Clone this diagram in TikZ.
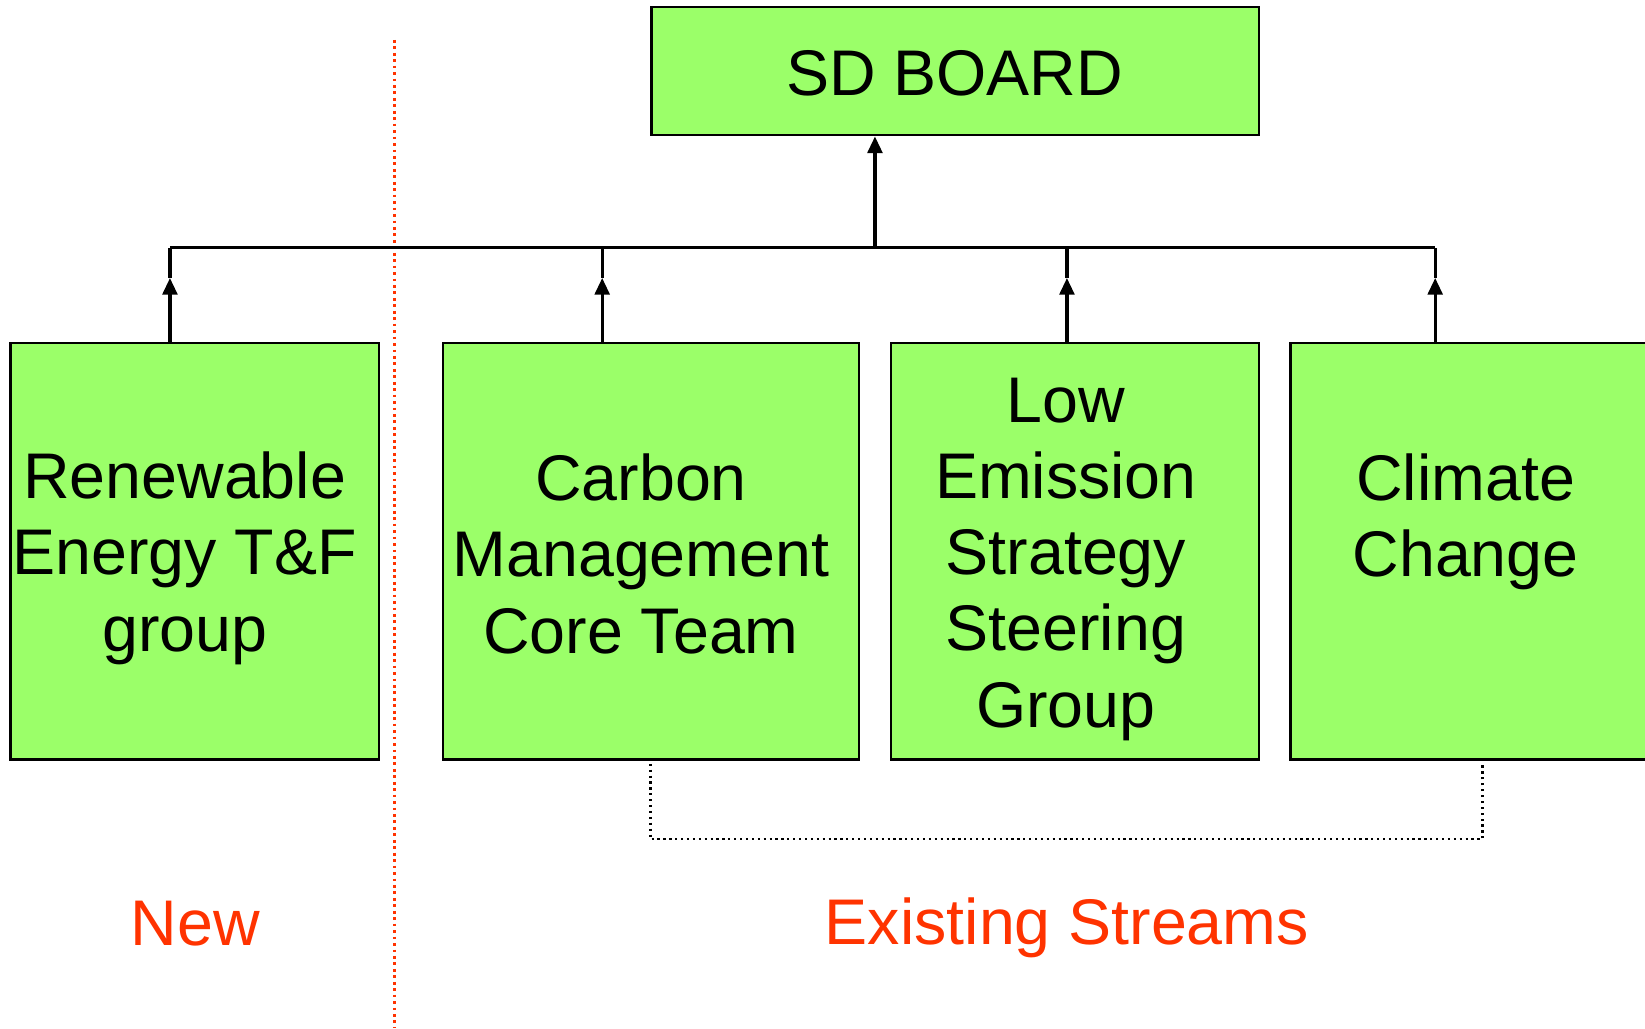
\documentclass[tikz,border=0pt]{standalone}
\usepackage{fontspec}
\setmainfont{Liberation Sans}
\usetikzlibrary{arrows.meta}
\definecolor{boxgreen}{HTML}{9BFF69}
\definecolor{lblred}{HTML}{FF3300}
\tikzset{
  box/.style={draw=black, line width=1.2pt, fill=boxgreen, inner sep=0pt},
  btxt/.style={align=center, font=\fontsize{35}{41.4}\selectfont, inner sep=0pt},
  rtxt/.style={text=lblred, font=\fontsize{35}{41.4}\selectfont, inner sep=0pt},
  conn/.style={line width=1.7pt, draw=black},
  arr/.style={conn, -{Triangle[width=8pt,length=9pt]}},
}
\begin{document}
\begin{tikzpicture}[x=0.02cm, y=-0.02cm]
\useasboundingbox (0,0) rectangle (1568,980);
\begin{scope}
\clip (0,0) rectangle (1568,980);
% boxes
\node[box, minimum width=579*0.02cm, minimum height=122*0.02cm] (sd) at (910.5,68) {};
\node[box, minimum width=351*0.02cm, minimum height=397*0.02cm] (ren) at (185.5,525.5) {};
\node[box, minimum width=397*0.02cm, minimum height=397*0.02cm] (carb) at (620.5,525.5) {};
\node[box, minimum width=351*0.02cm, minimum height=397*0.02cm] (low) at (1024.5,525.5) {};
\node[box, minimum width=440*0.02cm, minimum height=397*0.02cm] (clim) at (1450,525.5) {};
\end{scope}
% texts
\node[btxt] (sdt) at (910,70) {SD BOARD};
\node[btxt] (rent) at (176,532) {Renewable\\Energy T\&F\\group};
\node[btxt] (carbt) at (611,528) {Carbon\\Management\\Core Team};
\node[btxt] (lowt) at (1016,533) {Low\\Emission\\Strategy\\Steering\\Group};
\node[btxt, anchor=north] (climt) at (1397,432) {Climate\\Change};
\node[rtxt] (new) at (186,880) {New};
\node[rtxt] (exist) at (1017,884) {Existing Streams};
% red dotted separator
\coordinate (sepT) at (376,38);
\coordinate (sepB) at (376,980);
\draw[lblred, line width=1.5pt, dotted] (sepT) -- (sepB);
% connectors
\coordinate (hL) at (162,236);
\coordinate (hR) at (1368,236);
\coordinate (hM) at (834,236);
\draw[conn] (hL) -- (hR);
\draw[arr] (hM) -- (sd.south -| hM);
\foreach \x/\n in {162/ren, 574/carb, 1017/low, 1368/clim}{
  \coordinate (a\n) at (\x,265);
  \draw[arr] (\n.north -| a\n) -- (a\n);
  \draw[conn] (a\n) -- (\x,236);
}
% dotted bracket
\coordinate (bL) at (620,728);
\coordinate (bR) at (1413,728);
\draw[black, line width=1.2pt, dotted] (bL) -- (620,800) -- (1413,800) -- (bR);
\end{tikzpicture}
\end{document}
